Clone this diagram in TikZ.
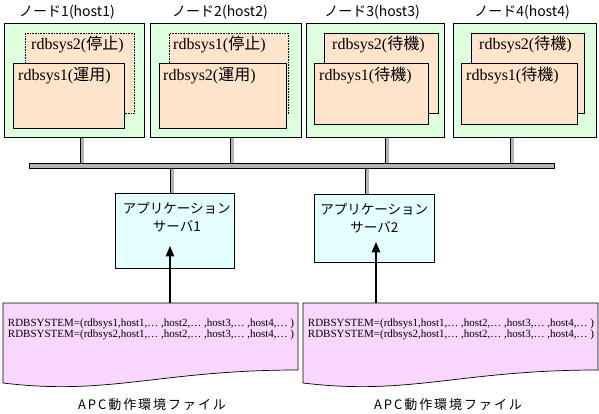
\documentclass[tikz,border=0pt]{standalone}
\usepackage{fontspec}
\setmainfont{Liberation Serif}
\newfontfamily\jp{Noto Sans CJK JP}
\usetikzlibrary{calc,arrows,positioning}
\usepackage{xcolor}
\definecolor{hostgreen}{HTML}{DDFFDD}
\definecolor{rdbpeach}{HTML}{FFE4CC}
\definecolor{apcyan}{HTML}{E4FFFF}
\definecolor{cfgpink}{HTML}{F9D7FD}
\definecolor{busgray}{HTML}{B4B4B4}

\tikzset{
	hostbox/.style={draw, line width=0.8pt, fill=hostgreen, anchor=north west, inner sep=0pt, minimum height=114pt},
	rdbbox/.style={draw, line width=0.6pt, fill=rdbpeach, anchor=north west, inner sep=0pt},
	rdbtext/.style={anchor=north west, inner sep=1pt, font=\fontsize{16}{17}\selectfont},
	hosttitle/.style={font=\jp\fontsize{14}{16}\selectfont, inner sep=1pt},
	srvtext/.style={font=\jp\fontsize{13.5}{18}\selectfont, align=center, inner sep=0pt},
	srvbox/.style={draw, line width=0.6pt, fill=apcyan, anchor=north west, inner sep=0pt},
	cable/.style={double=busgray, double distance=3pt, line width=0.7pt},
	feed/.style={-triangle 45, line width=1.4pt},
	docshape/.style={draw, line width=0.7pt, fill=cfgpink},
	cfgline/.style={font=\fontsize{11}{11}\selectfont, align=left, inner sep=0pt},
	filelabel/.style={font=\jp\fontsize{13}{14}\selectfont\addfontfeature{LetterSpace=15}, inner sep=0pt}
}

\begin{document}
\begin{tikzpicture}[x=1pt, y=-1pt]
			\useasboundingbox (0,0) rectangle (599,414);
			% hosts
			\node[hostbox, minimum width=140pt] (host1) at (4,23) {};
			\node[hostbox, minimum width=151pt] (host2) at (150,23) {};
			\node[hostbox, minimum width=138pt] (host3) at (306,23) {};
			\node[hostbox, minimum width=143pt] (host4) at (453,23) {};
			\node[hosttitle] (title1) at (67,12) {ノード1(host1)};
			\node[hosttitle] (title2) at (220,12) {ノード2(host2)};
			\node[hosttitle] (title3) at (372,12) {ノード3(host3)};
			\node[hosttitle] (title4) at (522,12) {ノード4(host4)};
			% rdb systems, standby copy behind
			\node[rdbbox, densely dotted, minimum width=109pt, minimum height=80pt] (back1) at (25,33) {};
			\node[rdbbox, minimum width=111pt, minimum height=65pt] (front1) at (13,63) {};
			\node[rdbbox, densely dotted, minimum width=119pt, minimum height=80pt] (back2) at (169,33) {};
			\node[rdbbox, minimum width=127pt, minimum height=65pt] (front2) at (159,63) {};
			\node[rdbbox, minimum width=114pt, minimum height=80pt] (back3) at (324,33) {};
			\node[rdbbox, minimum width=114pt, minimum height=61pt] (front3) at (314,63) {};
			\node[rdbbox, minimum width=113pt, minimum height=80pt] (back4) at (471,33) {};
			\node[rdbbox, minimum width=116pt, minimum height=61pt] (front4) at (461,63) {};
			\node[rdbtext] (rb1) at ($(back1.north west)+(5,2)$) {rdbsys2({\jp 停止})};
			\node[rdbtext] (rf1) at ($(front1.north west)+(4,3)$) {rdbsys1({\jp 運用})};
			\node[rdbtext] (rb2) at ($(back2.north west)+(3,2)$) {rdbsys1({\jp 停止})};
			\node[rdbtext] (rf2) at ($(front2.north west)+(3,3)$) {rdbsys2({\jp 運用})};
			\node[rdbtext] (rb3) at ($(back3.north west)+(7,2)$) {rdbsys2({\jp 待機})};
			\node[rdbtext] (rf3) at ($(front3.north west)+(4,3)$) {rdbsys1({\jp 待機})};
			\node[rdbtext] (rb4) at ($(back4.north west)+(7,2)$) {rdbsys2({\jp 待機})};
			\node[rdbtext] (rf4) at ($(front4.north west)+(4,3)$) {rdbsys1({\jp 待機})};
			% LAN
			\node[draw, line width=0.7pt, fill=busgray, anchor=north west, inner sep=0pt, minimum width=525pt, minimum height=5pt] (bus) at (29,163) {};
			\coordinate (tap1) at (82,0);
			\coordinate (tap2) at (232,0);
			\coordinate (tap3) at (387,0);
			\coordinate (tap4) at (512,0);
			\foreach \i in {1,...,4}
				\draw[cable] (host\i.south -| tap\i) -- (bus.north -| tap\i);
			% application servers
			\node[srvbox, minimum width=119pt, minimum height=75pt] (srv1) at (115,193) {};
			\node[srvbox, minimum width=120pt, minimum height=68pt] (srv2) at (314,194) {};
			\node[srvtext, below=9pt of srv1.north, xshift=2pt] (srvname1) {アプリケーション\\サーバ1};
			\node[srvtext, below=9pt of srv2.north] (srvname2) {アプリケーション\\サーバ2};
			\coordinate (stub1) at (172,0);
			\coordinate (stub2) at (367,0);
			\draw[cable] (bus.south -| stub1) -- (srv1.north -| stub1);
			\draw[cable] (bus.south -| stub2) -- (srv2.north -| stub2);
			% APC files
			\draw[docshape] (3,303) -- (298,303) -- (298,370) .. controls (160,370) and (110,396) .. (3,383) -- cycle;
			\draw[docshape] (303,303) -- (598,303) -- (598,370) .. controls (460,370) and (410,396) .. (303,383) -- cycle;
			\coordinate (doc1) at (170,303);
			\coordinate (doc2) at (376,303);
			\coordinate (tip1) at (170,246);
			\coordinate (tip2) at (376,242);
			\draw[feed] (doc1) -- (tip1);
			\draw[feed] (doc2) -- (tip2);
			\node[cfgline] (cfg1) at (151,329) {RDBSYSTEM=(rdbsys1,host1,\dots\ ,host2,\dots\ ,host3,\dots\ ,host4,\dots\ )\\RDBSYSTEM=(rdbsys2,host1,\dots\ ,host2,\dots\ ,host3,\dots\ ,host4,\dots\ )};
			\node[cfgline] (cfg2) at (451,329) {RDBSYSTEM=(rdbsys1,host1,\dots\ ,host2,\dots\ ,host3,\dots\ ,host4,\dots\ )\\RDBSYSTEM=(rdbsys2,host1,\dots\ ,host2,\dots\ ,host3,\dots\ ,host4,\dots\ )};
			\node[filelabel] (file1) at (152,405) {APC動作環境ファイル};
			\node[filelabel] (file2) at (448,405) {APC動作環境ファイル};
			\end{tikzpicture}
\end{document}
